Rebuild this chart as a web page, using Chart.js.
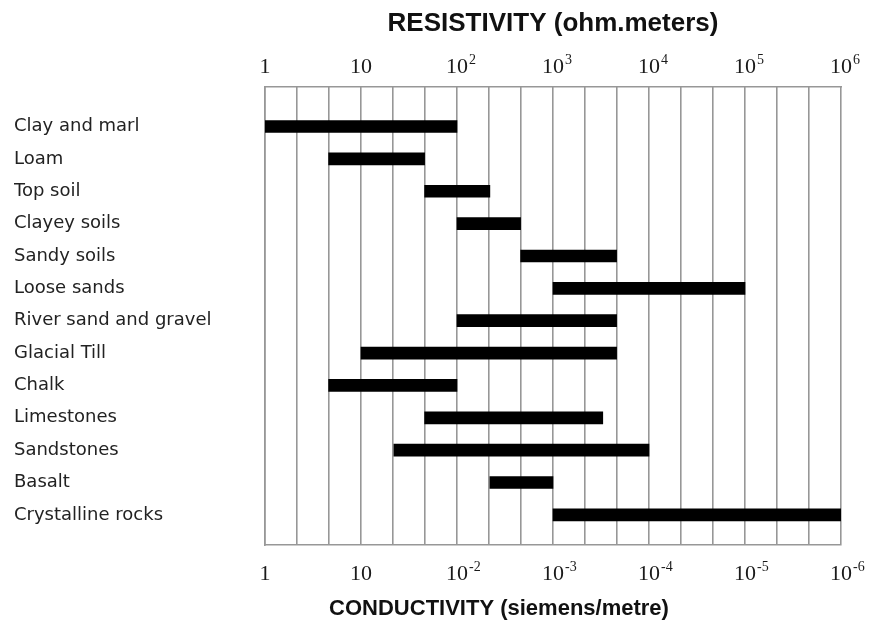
<!DOCTYPE html>
<html>
<head>
<meta charset="utf-8">
<script src="https://cdn.jsdelivr.net/npm/chart.js@4/dist/chart.umd.min.js"></script>
<style>
  html, body { margin: 0; padding: 0; background: #fff; }
  #wrap { width: 871px; height: 623px; }
</style>
</head>
<body>
<div id="wrap"><canvas id="soilChart"></canvas></div>
<script>
// soil and rock types, listed top to bottom
var categories = [
    'Clay and marl', 'Loam', 'Top soil', 'Clayey soils', 'Sandy soils',
    'Loose sands', 'River sand and gravel', 'Glacial Till', 'Chalk',
    'Limestones', 'Sandstones', 'Basalt', 'Crystalline rocks'
];

// resistivity range of each type, ohm.m
var resistivityLow  = [1, 4.6, 46, 100, 460, 1000, 100, 10, 4.6, 46, 22, 220, 1000];
var resistivityHigh = [100, 46, 220, 460, 4600, 100000, 4600, 4600, 100, 3300, 10000, 1000, 1000000];

// decade tick labels: [base, exponent]
var decades = [1, 10, 100, 1000, 10000, 100000, 1000000];
var resistivityLabels = [['1', ''], ['10', ''], ['10', '2'], ['10', '3'], ['10', '4'], ['10', '5'], ['10', '6']];
var conductivityLabels = [['1', ''], ['10', ''], ['10', '-2'], ['10', '-3'], ['10', '-4'], ['10', '-5'], ['10', '-6']];

var gridColor = '#979797';

// grid lines every third of a decade
function thirdDecadeTicks(scale) {
    var t = [];
    for (var k = 0; k <= 18; k++) t.push({ value: Math.pow(10, k / 3) });
    scale.ticks = t;
}

function drawPower(ctx, x, y, lab) {
    ctx.font = '22px "Liberation Serif"';
    ctx.textAlign = 'center';
    ctx.fillText(lab[0], x, y);
    if (lab[1]) {
        var w = ctx.measureText(lab[0]).width;
        ctx.font = '14px "Liberation Serif"';
        ctx.textAlign = 'left';
        ctx.fillText(lab[1], x + w / 2 + 1, y - 9);
    }
}

// superscript tick labels on both axes + bottom title
var decadeLabels = {
    id: 'decadeLabels',
    afterDraw: function (chart) {
        var ctx = chart.ctx;
        var xs = chart.scales.x;
        var area = chart.chartArea;
        ctx.save();
        ctx.fillStyle = '#1a1a1a';
        ctx.textBaseline = 'alphabetic';
        decades.forEach(function (v, i) {
            var px = xs.getPixelForValue(v);
            drawPower(ctx, px, area.top - 14, resistivityLabels[i]);
            drawPower(ctx, px, area.bottom + 35, conductivityLabels[i]);
        });
        ctx.font = 'bold 22px "Liberation Sans"';
        ctx.textAlign = 'center';
        ctx.fillStyle = '#111';
        ctx.fillText('CONDUCTIVITY (siemens/metre)', (area.left + area.right) / 2 - 54, 615);
        ctx.restore();
    }
};

new Chart(document.getElementById('soilChart'), {
    type: 'bar',
    data: {
        datasets: [{
            data: categories.map(function (c, i) {
                return { y: i, x: [resistivityLow[i], resistivityHigh[i]] };
            }),
            backgroundColor: '#000',
            barThickness: 12,
            borderSkipped: false
        }]
    },
    options: {
        indexAxis: 'y',
        responsive: true,
        maintainAspectRatio: false,
        animation: false,
        layout: { padding: { left: 14, right: 30, top: 0, bottom: 0 } },
        plugins: {
            legend: { display: false },
            tooltip: { enabled: false }
        },
        scales: {
            x: {
                type: 'logarithmic',
                position: 'bottom',
                min: 1,
                max: 1000000,
                afterBuildTicks: thirdDecadeTicks,
                afterFit: function (s) { s.height = 623 - 545; },
                ticks: { display: false },
                grid: { color: gridColor, lineWidth: 1.6, drawTicks: false },
                border: { color: gridColor, width: 1.6 }
            },
            x2: {
                type: 'logarithmic',
                position: 'top',
                min: 1,
                max: 1000000,
                afterBuildTicks: thirdDecadeTicks,
                afterFit: function (s) { s.height = 87; },
                ticks: { display: false },
                grid: { display: false },
                border: { color: gridColor, width: 1.6 },
                title: {
                    display: true,
                    text: 'RESISTIVITY (ohm.meters)',
                    color: '#111',
                    font: { family: 'Liberation Sans', size: 26, weight: 'bold' },
                    padding: { top: 8, bottom: 0 }
                }
            },
            y: {
                type: 'linear',
                reverse: true,
                offset: false,
                min: -1.22,
                max: 12.93,
                afterBuildTicks: function (s) {
                    s.ticks = categories.map(function (c, i) { return { value: i }; });
                },
                afterFit: function (s) { s.width = 251; },
                ticks: {
                    autoSkip: false,
                    crossAlign: 'far',
                    color: '#222',
                    font: { family: 'DejaVu Sans', size: 18 },
                    callback: function (v) { return categories[v]; }
                },
                grid: { display: false, offset: false },
                border: { color: gridColor, width: 1.6 }
            }
        }
    },
    plugins: [decadeLabels]
});
</script>
</body>
</html>
